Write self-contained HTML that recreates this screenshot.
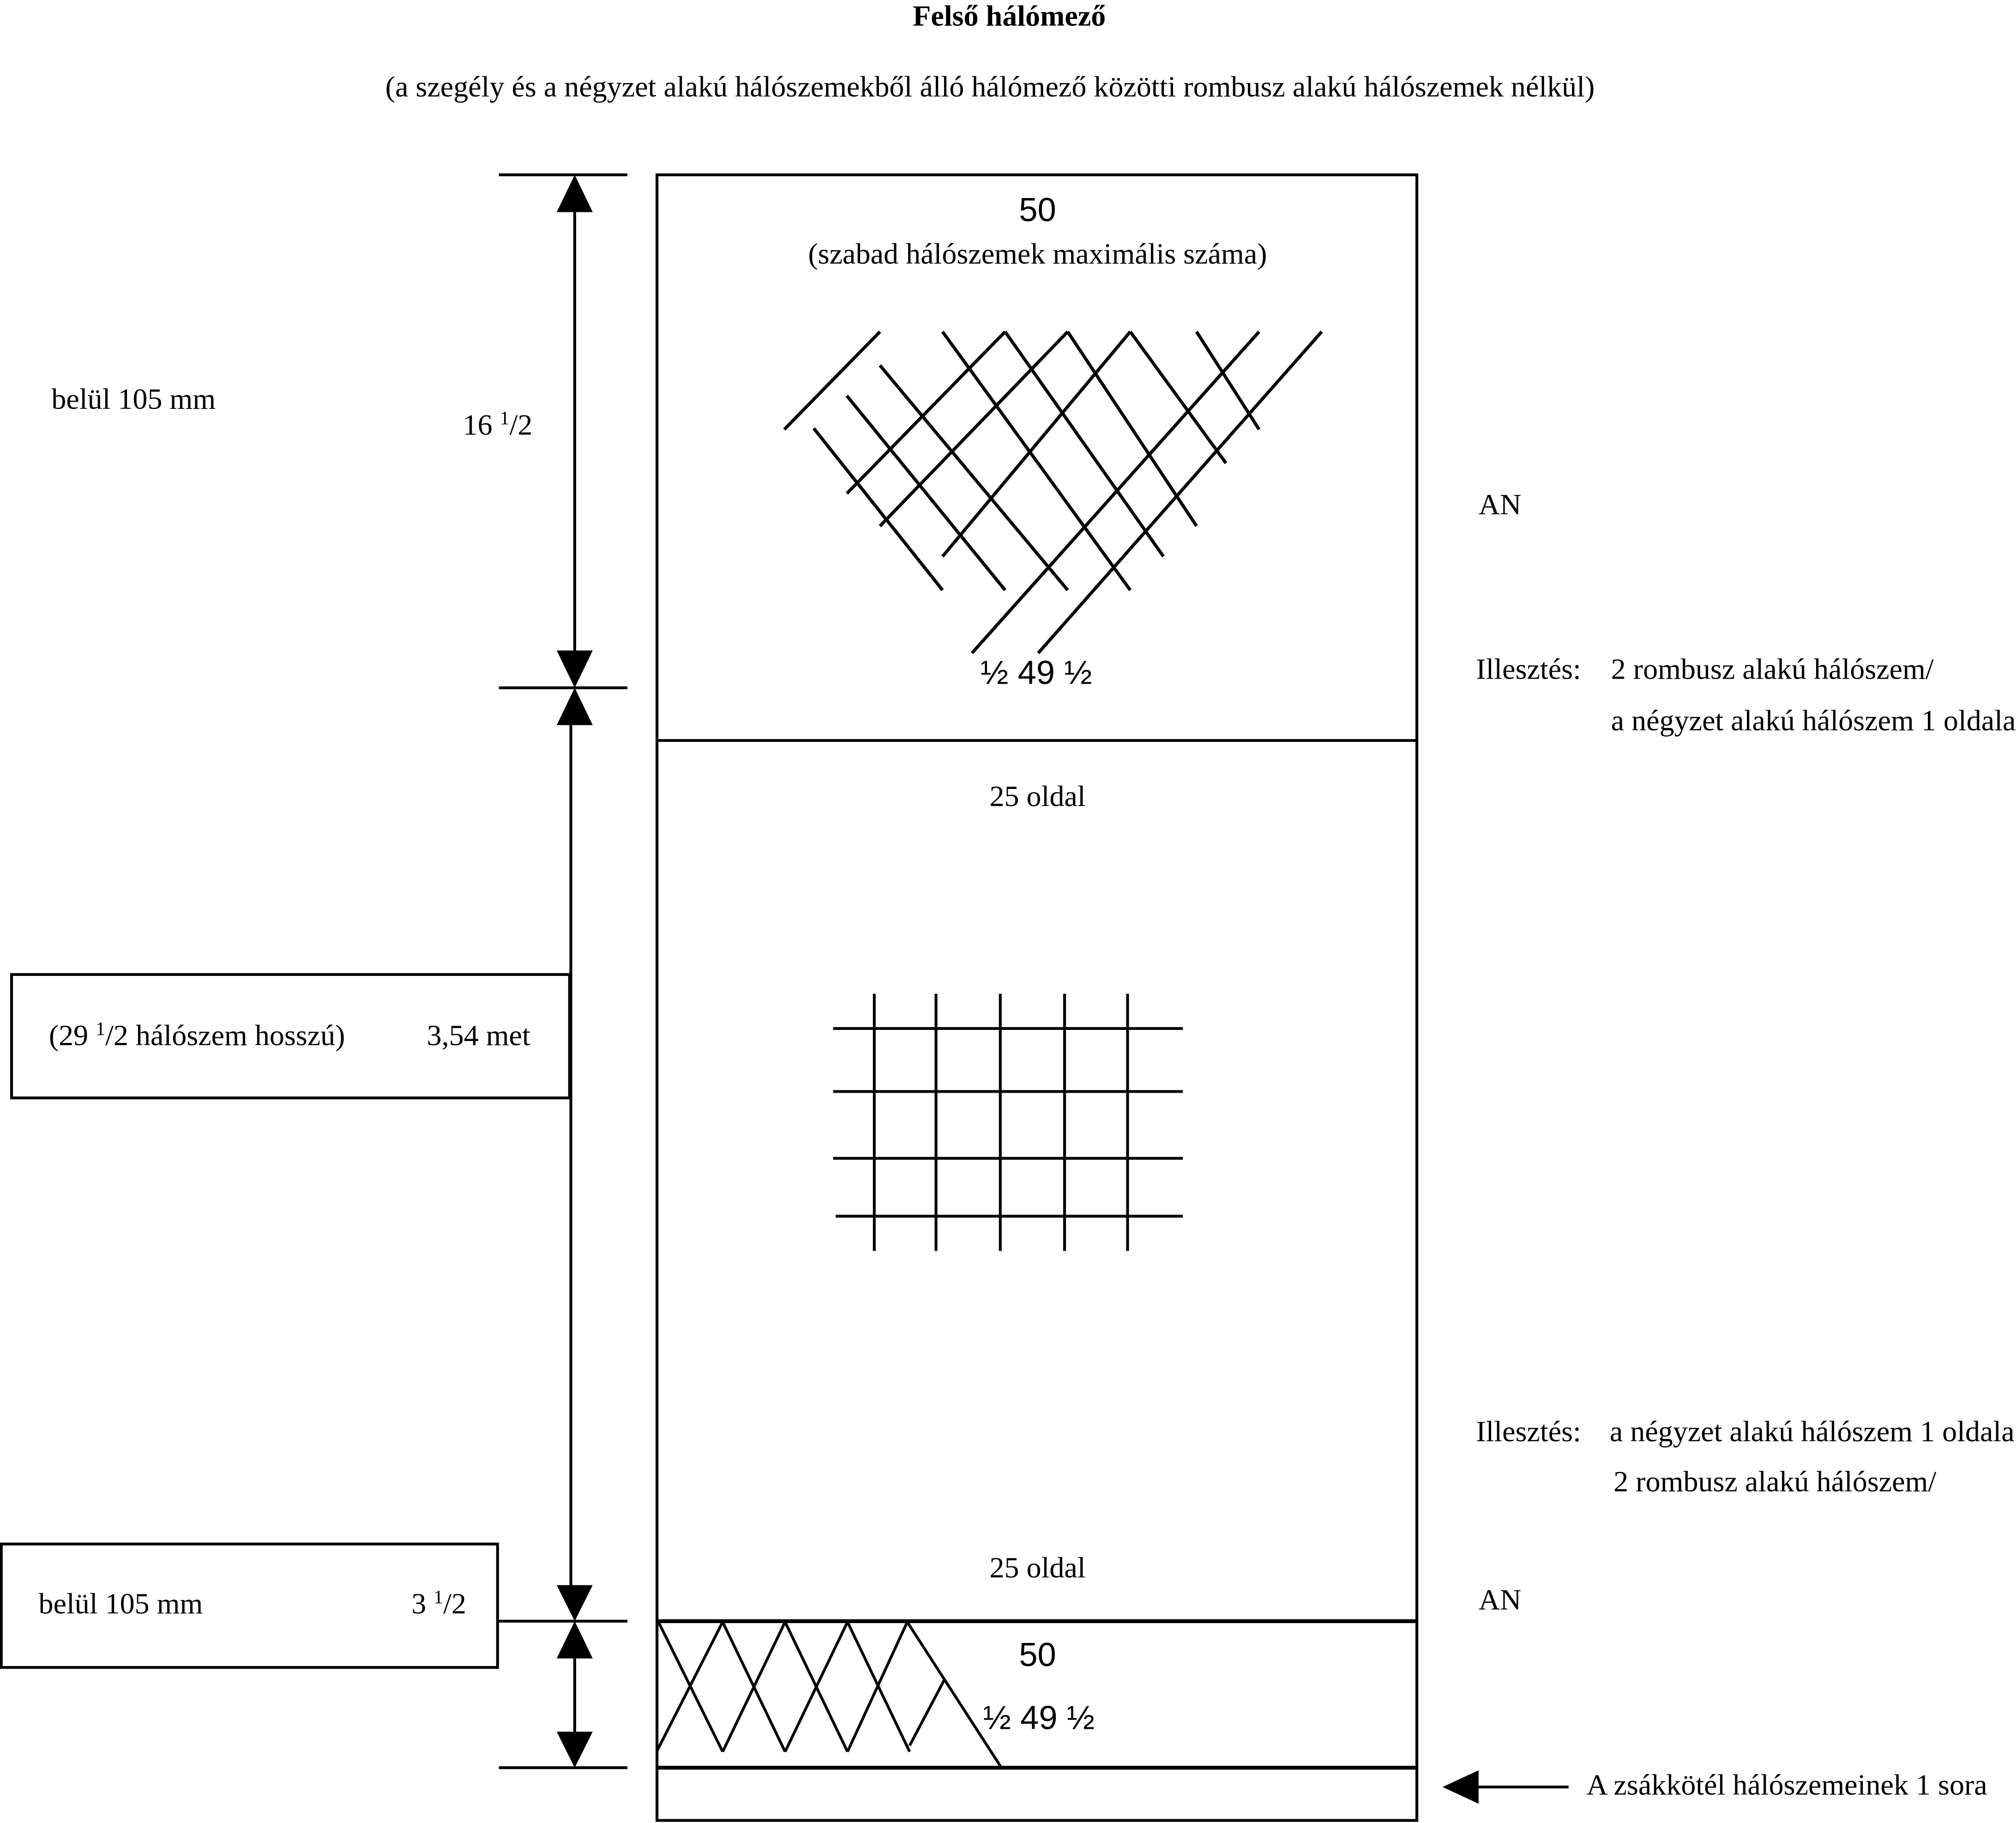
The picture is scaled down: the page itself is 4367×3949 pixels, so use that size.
<!DOCTYPE html>
<html><head><meta charset="utf-8"><style>
html,body{margin:0;padding:0;background:#fff;}
svg{display:block;}
text{font-family:"Liberation Serif",serif;font-size:23px;fill:#000;}
.s{font-family:"Liberation Sans",sans-serif;font-size:26px;}
.sup{font-size:15px;}
</style></head><body>
<svg width="4367" height="3949" viewBox="0 0 1568 1418" preserveAspectRatio="none" xmlns="http://www.w3.org/2000/svg">
<g stroke="#000" stroke-width="2.2" fill="none">
<rect x="511" y="136" width="591" height="1280"/>
<line x1="511" y1="576" x2="1102" y2="576"/>
<line x1="511" y1="1261" x2="1102" y2="1261" stroke-width="3"/>
<line x1="511" y1="1375" x2="1102" y2="1375" stroke-width="3"/>
<line x1="388" y1="136" x2="488" y2="136"/>
<line x1="388" y1="535" x2="488" y2="535"/>
<line x1="388" y1="1261" x2="488" y2="1261"/>
<line x1="388" y1="1375" x2="488" y2="1375"/>
<line x1="447" y1="150" x2="447" y2="520"/>
<line x1="444" y1="550" x2="444" y2="1245"/>
<line x1="447" y1="1275" x2="447" y2="1360"/>
<rect x="9" y="758" width="434" height="96"/>
<rect x="1" y="1201" width="386" height="96"/>
<line x1="1140" y1="1390" x2="1220" y2="1390"/>
</g>
<g fill="#000">
<polygon points="447,136 433,165 461,165"/>
<polygon points="447,535 433,506 461,506"/>
<polygon points="447,535 433,564 461,564"/>
<polygon points="447,1261 433,1233 461,1233"/>
<polygon points="447,1261 433,1290 461,1290"/>
<polygon points="447,1375 433,1347 461,1347"/>
<polygon points="1122,1390 1150,1377 1150,1403"/>
</g>
<g transform="translate(592.8,244.9) scale(0.2863,0.1748)" stroke="#000" stroke-width="7" fill="none">
<line vector-effect="non-scaling-stroke" x1="60" y1="510" x2="320" y2="75"/>
<line vector-effect="non-scaling-stroke" x1="230" y1="795" x2="660" y2="75"/>
<line vector-effect="non-scaling-stroke" x1="320" y1="940" x2="830" y2="75"/>
<line vector-effect="non-scaling-stroke" x1="490" y1="1075" x2="1000" y2="75"/>
<line vector-effect="non-scaling-stroke" x1="570" y1="1505" x2="1350" y2="75"/>
<line vector-effect="non-scaling-stroke" x1="750" y1="1505" x2="1520" y2="75"/>
<line vector-effect="non-scaling-stroke" x1="1180" y1="75" x2="1350" y2="510"/>
<line vector-effect="non-scaling-stroke" x1="1000" y1="75" x2="1260" y2="660"/>
<line vector-effect="non-scaling-stroke" x1="830" y1="75" x2="1180" y2="940"/>
<line vector-effect="non-scaling-stroke" x1="660" y1="75" x2="1090" y2="1075"/>
<line vector-effect="non-scaling-stroke" x1="490" y1="75" x2="1000" y2="1225"/>
<line vector-effect="non-scaling-stroke" x1="320" y1="225" x2="830" y2="1225"/>
<line vector-effect="non-scaling-stroke" x1="230" y1="360" x2="660" y2="1225"/>
<line vector-effect="non-scaling-stroke" x1="140" y1="505" x2="490" y2="1225"/>
</g>
<g transform="translate(503,1249.7) scale(0.229,0.1194)" stroke="#000" stroke-width="6" fill="none">
<line vector-effect="non-scaling-stroke" x1="40" y1="100" x2="258" y2="945"/>
<line vector-effect="non-scaling-stroke" x1="258" y1="100" x2="470" y2="945"/>
<line vector-effect="non-scaling-stroke" x1="470" y1="100" x2="682" y2="945"/>
<line vector-effect="non-scaling-stroke" x1="682" y1="100" x2="893" y2="945"/>
<line vector-effect="non-scaling-stroke" x1="885" y1="100" x2="1205" y2="1050"/>
<line vector-effect="non-scaling-stroke" x1="35" y1="940" x2="258" y2="100"/>
<line vector-effect="non-scaling-stroke" x1="258" y1="945" x2="470" y2="100"/>
<line vector-effect="non-scaling-stroke" x1="470" y1="945" x2="682" y2="100"/>
<line vector-effect="non-scaling-stroke" x1="682" y1="945" x2="885" y2="100"/>
<line vector-effect="non-scaling-stroke" x1="893" y1="905" x2="1010" y2="480"/>
</g>
<g stroke="#000" stroke-width="2.2">
<line x1="680" y1="773" x2="680" y2="973"/>
<line x1="728" y1="773" x2="728" y2="973"/>
<line x1="778" y1="773" x2="778" y2="973"/>
<line x1="828" y1="773" x2="828" y2="973"/>
<line x1="877" y1="773" x2="877" y2="973"/>
<line x1="648" y1="800" x2="920" y2="800"/>
<line x1="648" y1="849" x2="920" y2="849"/>
<line x1="648" y1="901" x2="920" y2="901"/>
<line x1="650" y1="946" x2="920" y2="946"/>
</g>
<text x="785" y="20" text-anchor="middle" font-weight="bold">Felső hálómező</text>
<text x="770" y="75" text-anchor="middle">(a szegély és a négyzet alakú hálószemekből álló hálómező közötti rombusz alakú hálószemek nélkül)</text>
<text class="s" x="807" y="172" text-anchor="middle">50</text>
<text x="807" y="205" text-anchor="middle">(szabad hálószemek maximális száma)</text>
<text x="40" y="318">belül 105 mm</text>
<text x="360" y="338">16 <tspan class="sup" dy="-8">1</tspan><tspan dy="8">/2</tspan></text>
<text x="1150" y="400">AN</text>
<text class="s" x="806" y="532" text-anchor="middle">½ 49 ½</text>
<text x="1148" y="528">Illesztés:</text>
<text x="1253" y="528">2 rombusz alakú hálószem/</text>
<text x="1253" y="568">a négyzet alakú hálószem 1 oldala</text>
<text x="807" y="627" text-anchor="middle">25 oldal</text>
<text x="38" y="813">(29 <tspan class="sup" dy="-8">1</tspan><tspan dy="8">/2 hálószem hosszú)</tspan></text>
<text x="332" y="813">3,54 met</text>
<text x="1148" y="1121">Illesztés:</text>
<text x="1252" y="1121">a négyzet alakú hálószem 1 oldala</text>
<text x="1255" y="1160">2 rombusz alakú hálószem/</text>
<text x="807" y="1227" text-anchor="middle">25 oldal</text>
<text x="30" y="1255">belül 105 mm</text>
<text x="320" y="1255">3 <tspan class="sup" dy="-8">1</tspan><tspan dy="8">/2</tspan></text>
<text x="1150" y="1252">AN</text>
<text class="s" x="807" y="1296" text-anchor="middle">50</text>
<text class="s" x="808" y="1345" text-anchor="middle">½ 49 ½</text>
<text x="1234" y="1396">A zsákkötél hálószemeinek 1 sora</text>
</svg>
</body></html>
